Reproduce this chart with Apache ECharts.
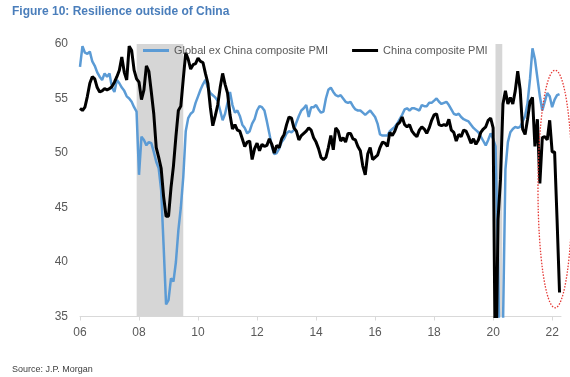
<!DOCTYPE html>
<html>
<head>
<meta charset="utf-8">
<script src="https://cdn.jsdelivr.net/npm/echarts@6/dist/echarts.min.js"></script>
<style>
  html, body { margin: 0; padding: 0; background: #fff; }
  #chart { width: 570px; height: 377px; }
</style>
</head>
<body>
<div id="chart"></div>
<script>
// Monthly composite PMI readings, January 2006 onwards
const startYear = 2006;
const seriesNames = ['Global ex China composite PMI', 'China composite PMI'];

const globalExChina = [
  57.9, 59.8, 59.2, 59.1, 59.3, 58.4, 58.0, 57.4, 57.0, 56.7, 57.3, 57.0, // 2006
  57.3, 56.0, 55.6, 56.7, 56.4, 56.0, 55.7, 55.2, 55.0, 54.7, 54.2, 53.8, // 2007
  48.0, 51.5, 51.2, 50.7, 51.0, 50.9, 50.1, 49.2, 48.6, 46.6, 41.5, 36.1, // 2008
  36.5, 38.5, 38.2, 40.0, 42.9, 45.0, 47.8, 52.0, 53.2, 53.6, 53.8, 54.6, // 2009
  55.2, 55.8, 56.3, 56.7, 56.0, 55.5, 55.3, 55.1, 54.8, 53.9, 53.0, 53.6, // 2010
  54.6, 55.6, 54.4, 53.7, 53.9, 53.4, 52.6, 52.3, 51.8, 52.0, 52.7, 53.1, // 2011
  53.9, 54.3, 54.2, 53.9, 52.9, 51.8, 50.6, 49.9, 50.0, 50.4, 51.0, 51.3, // 2012
  51.8, 52.0, 51.9, 52.1, 52.8, 53.4, 53.9, 54.1, 54.4, 53.3, 54.2, 54.2, // 2013
  54.4, 54.0, 53.7, 53.8, 55.0, 55.8, 56.0, 55.6, 55.3, 55.2, 55.3, 55.0, // 2014
  54.7, 54.6, 54.7, 54.3, 54.0, 53.9, 53.9, 53.7, 53.5, 53.7, 53.9, 53.6, // 2015
  53.3, 52.7, 51.7, 51.6, 51.6, 51.6, 52.0, 52.2, 52.4, 52.7, 53.1, 53.5, // 2016
  54.0, 54.1, 53.9, 54.1, 54.1, 54.0, 53.9, 54.4, 54.3, 54.3, 54.6, 54.6, // 2017
  54.8, 55.0, 54.7, 54.5, 54.6, 54.7, 54.4, 54.0, 53.6, 53.5, 53.6, 53.3, // 2018
  53.1, 53.0, 52.9, 52.6, 52.3, 52.1, 51.9, 51.5, 51.1, 50.7, 51.2, 51.8, // 2019
  51.3, 50.6, 40.0, 26.0, 34.0, 48.5, 51.0, 51.9, 52.2, 52.4, 52.3, 52.4, // 2020
  52.9, 53.4, 54.6, 56.8, 59.6, 58.6, 56.9, 55.2, 53.9, 54.7, 55.5, 55.2, // 2021
  54.2, 54.9, 55.3, 55.4                                                  // 2022
];

const china = [
  54.1, 53.9, 54.2, 55.2, 56.4, 57.0, 56.8, 56.0, 55.6, 55.7, 55.9, 55.8, // 2006
  55.9, 56.1, 56.5, 57.0, 57.6, 58.8, 57.4, 56.7, 59.8, 59.4, 57.6, 56.8, // 2007
  56.5, 54.9, 55.8, 58.0, 57.5, 55.6, 53.6, 50.5, 49.6, 48.6, 46.0, 44.2, // 2008
  44.2, 46.8, 48.8, 51.5, 53.9, 54.3, 56.8, 59.2, 58.6, 57.7, 58.1, 58.2, // 2009
  58.7, 58.4, 58.3, 57.3, 56.4, 54.2, 52.5, 53.4, 54.4, 56.0, 57.3, 56.3, // 2010
  55.5, 53.5, 52.2, 52.6, 52.1, 52.0, 51.3, 50.6, 51.0, 51.1, 49.4, 50.4, // 2011
  50.9, 50.2, 50.8, 50.6, 50.7, 51.3, 50.8, 50.0, 50.7, 50.5, 51.3, 51.7, // 2012
  52.6, 53.3, 53.2, 52.3, 52.0, 51.2, 51.6, 51.8, 52.0, 52.3, 52.1, 51.4, // 2013
  51.0, 50.4, 49.6, 49.4, 49.6, 50.5, 51.6, 50.3, 52.3, 52.0, 51.1, 51.4, // 2014
  51.0, 51.8, 51.8, 51.3, 51.2, 50.6, 50.2, 48.8, 48.0, 49.9, 50.5, 49.4, // 2015
  49.6, 49.8, 50.5, 51.0, 50.9, 50.6, 51.9, 51.6, 52.0, 52.6, 52.8, 53.3, // 2016
  52.6, 52.4, 52.6, 52.0, 51.7, 51.5, 52.1, 52.4, 52.2, 51.8, 52.3, 53.0, // 2017
  53.5, 53.6, 52.6, 52.5, 52.6, 52.5, 53.1, 52.1, 51.9, 51.1, 51.7, 51.5, // 2018
  52.1, 52.0, 51.5, 50.9, 51.3, 50.8, 51.2, 51.9, 52.2, 52.4, 53.0, 53.2, // 2019
  52.3, 27.5, 43.9, 47.6, 54.5, 55.7, 54.5, 55.1, 54.5, 55.7, 57.5, 55.8, // 2020
  52.2, 51.7, 53.1, 54.7, 55.1, 50.6, 53.1, 47.2, 51.4, 51.5, 51.2, 53.0, // 2021
  50.1, 50.1, 43.9, 37.2                                                  // 2022
];

// Shaded recession periods, in decimal years
const recessions = [[2007.92, 2009.5], [2020.08, 2020.31]];

const xTickYears = [2006, 2008, 2010, 2012, 2014, 2016, 2018, 2020, 2022];
const xTickLabels = ['06', '08', '10', '12', '14', '16', '18', '20', '22'];
const yTicks = [35, 40, 45, 50, 55, 60];

// Dotted oval drawn around the latest readings (decimal years / index points)
const highlightX = [2021.52, 2022.68];
const highlightY = [35.8, 57.6];

const FONT = '"Liberation Sans", Arial, sans-serif';

function toPairs(values) {
  return values.map((v, i) => [startYear + i / 12, v]);
}

const chart = echarts.init(document.getElementById('chart'), null, { renderer: 'canvas' });

chart.setOption({
  animation: false,
  backgroundColor: '#ffffff',
  title: {
    text: 'Figure 10: Resilience outside of China',
    left: 12,
    top: 6,
    padding: 0,
    textStyle: { fontSize: 12, fontWeight: 'bold', color: '#4A7EBB', fontFamily: FONT }
  },
  legend: {
    data: seriesNames,
    left: 143,
    top: 45,
    padding: 0,
    icon: 'rect',
    itemWidth: 26,
    itemHeight: 3,
    itemGap: 24,
    textStyle: { color: '#595959', fontSize: 11, fontFamily: FONT }
  },
  grid: { left: 80, right: 9, top: 44, bottom: 60.5 },
  xAxis: {
    type: 'value',
    min: 2006,
    max: 2022.3,
    splitLine: { show: false },
    axisLine: { lineStyle: { color: '#d9d9d9', width: 1 } },
    axisTick: { show: true, customValues: xTickYears, length: 4, lineStyle: { color: '#d9d9d9' } },
    axisLabel: {
      customValues: xTickYears,
      margin: 10,
      color: '#595959',
      fontSize: 12,
      fontFamily: FONT,
      formatter: v => xTickLabels[xTickYears.indexOf(Math.round(v))] || ''
    }
  },
  yAxis: {
    type: 'value',
    min: yTicks[0],
    max: yTicks[yTicks.length - 1],
    interval: 5,
    splitLine: { show: false },
    axisLine: { show: false },
    axisTick: { show: false },
    axisLabel: { margin: 12, color: '#595959', fontSize: 12, fontFamily: FONT }
  },
  series: [
    {
      name: 'recession',
      type: 'line',
      data: [],
      z: 1,
      markArea: {
        silent: true,
        itemStyle: { color: '#d6d6d6' },
        data: recessions.map(r => [{ xAxis: r[0] }, { xAxis: r[1] }])
      }
    },
    {
      name: seriesNames[0],
      type: 'line',
      data: toPairs(globalExChina),
      showSymbol: false,
      z: 2,
      lineStyle: { color: '#5B9BD5', width: 2.5 },
      itemStyle: { color: '#5B9BD5' }
    },
    {
      name: seriesNames[1],
      type: 'line',
      data: toPairs(china),
      showSymbol: false,
      z: 3,
      lineStyle: { color: '#000000', width: 3 },
      itemStyle: { color: '#000000' }
    }
  ]
});

// Source note and the dotted highlight oval, placed from axis coordinates
const p0 = chart.convertToPixel({ gridIndex: 0 }, [highlightX[0], highlightY[1]]);
const p1 = chart.convertToPixel({ gridIndex: 0 }, [highlightX[1], highlightY[0]]);

chart.setOption({
  graphic: [
    {
      type: 'text',
      left: 12,
      top: 365,
      style: { text: 'Source: J.P. Morgan', fill: '#404040', font: '9px ' + FONT }
    },
    {
      type: 'ellipse',
      z: 10,
      shape: {
        cx: (p0[0] + p1[0]) / 2,
        cy: (p0[1] + p1[1]) / 2,
        rx: (p1[0] - p0[0]) / 2,
        ry: (p1[1] - p0[1]) / 2
      },
      style: { fill: 'none', stroke: '#E53935', lineWidth: 1.3, lineDash: [1.5, 1.5] }
    }
  ]
});
</script>
</body>
</html>
